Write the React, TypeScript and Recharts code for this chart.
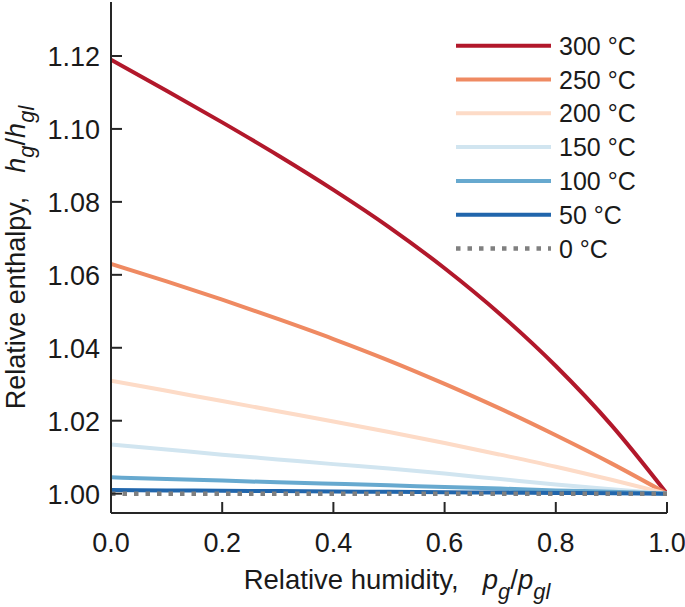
import React from 'react';
import { LineChart, Line, XAxis, YAxis, Legend, Label } from 'recharts';

const humidity = [0, 0.1, 0.2, 0.3, 0.4, 0.5, 0.6, 0.7, 0.8, 0.9, 1.0];
const t300 = [1.119, 1.1105, 1.1018, 1.0928, 1.0833, 1.0731, 1.0618, 1.0492, 1.035, 1.0188, 1.0];
const t250 = [1.063, 1.0582, 1.0532, 1.0479, 1.0424, 1.0365, 1.0301, 1.0233, 1.016, 1.0083, 1.0];
const t200 = [1.031, 1.0282, 1.0254, 1.0226, 1.0198, 1.0169, 1.0139, 1.0107, 1.0074, 1.0038, 1.0];
const t150 = [1.0135, 1.0121, 1.0107, 1.0094, 1.0081, 1.0069, 1.0055, 1.004, 1.0025, 1.0012, 1.0];
const t100 = [1.0045, 1.004, 1.0036, 1.0031, 1.0027, 1.0023, 1.0018, 1.0014, 1.0009, 1.0005, 1.0];
const t50 = [1.001, 1.0009, 1.0008, 1.0007, 1.0006, 1.0005, 1.0004, 1.0003, 1.0002, 1.0001, 1.0];
const t0 = [1.0, 1.0, 1.0, 1.0, 1.0, 1.0, 1.0, 1.0, 1.0, 1.0, 1.0];

const xTicks = [0, 0.2, 0.4, 0.6, 0.8, 1.0];
const yTicks = [1.0, 1.02, 1.04, 1.06, 1.08, 1.1, 1.12];

const seriesNames = ['300 °C', '250 °C', '200 °C', '150 °C', '100 °C', '50 °C', '0 °C'];
const seriesKeys = ['t300', 't250', 't200', 't150', 't100', 't50', 't0'];
const seriesValues = [t300, t250, t200, t150, t100, t50, t0];
const seriesColors = ['#b2182b', '#ef8a62', '#fddbc7', '#d1e5f0', '#67a9cf', '#2166ac', '#808080'];

const data = humidity.map((x, i) => {
  const row: Record<string, number> = { x };
  seriesKeys.forEach((k, j) => {
    row[k] = seriesValues[j][i];
  });
  return row;
});

const FONT = 'Liberation Sans, Arial, Helvetica, sans-serif';
const TXT = '#1a1a1a';
const AX = '#262626';
const TL = 11;

const BottomTick = (props: any) => {
  const { x, y, payload } = props;
  return (
    <g>
      <line x1={x} x2={x} y1={y} y2={y - TL} stroke={AX} strokeWidth={2} />
      <text x={x} y={y + 39} textAnchor="middle" fontSize={27} fontFamily={FONT} fill={TXT}>
        {Number(payload.value).toFixed(1)}
      </text>
    </g>
  );
};

const TopTick = (props: any) => {
  const { x, y } = props;
  return <line x1={x} x2={x} y1={y} y2={y + TL} stroke={AX} strokeWidth={2} />;
};

const LeftTick = (props: any) => {
  const { x, y, payload } = props;
  return (
    <g>
      <line x1={x} x2={x + TL} y1={y} y2={y} stroke={AX} strokeWidth={2} />
      <text x={x - 11} y={y + 10} textAnchor="end" fontSize={27} fontFamily={FONT} fill={TXT}>
        {Number(payload.value).toFixed(2)}
      </text>
    </g>
  );
};

const RightTick = (props: any) => {
  const { x, y } = props;
  return <line x1={x} x2={x - TL} y1={y} y2={y} stroke={AX} strokeWidth={2} />;
};

const XLabel = (props: any) => {
  const vb = props.viewBox || {};
  const cx = vb.x + vb.width / 2 + 8;
  return (
    <text x={cx} y={589} textAnchor="middle" fontSize={27.5} fontFamily={FONT} fill={TXT}>
      Relative humidity,
      <tspan fontStyle="italic" dx={24}>p</tspan>
      <tspan fontStyle="italic" fontSize={22} dy={10}>g</tspan>
      <tspan dy={-10}>/</tspan>
      <tspan fontStyle="italic">p</tspan>
      <tspan fontStyle="italic" fontSize={22} dy={10}>gl</tspan>
    </text>
  );
};

const YLabel = (props: any) => {
  const vb = props.viewBox || {};
  const cy = vb.y + vb.height / 2;
  const bx = 25;
  return (
    <text
      x={bx}
      y={cy}
      transform={`rotate(-90, ${bx}, ${cy})`}
      textAnchor="middle"
      fontSize={27}
      fontFamily={FONT}
      fill={TXT}
    >
      Relative enthalpy,
      <tspan fontStyle="italic" dx={24}>h</tspan>
      <tspan fontStyle="italic" fontSize={22} dy={9}>g</tspan>
      <tspan dy={-9}>/</tspan>
      <tspan fontStyle="italic">h</tspan>
      <tspan fontStyle="italic" fontSize={22} dy={9}>gl</tspan>
    </text>
  );
};

const renderLegend = () => {
  const left = 450;
  const top = 20;
  return (
    <svg width={235} height={250} style={{ display: 'block' }}>
      {seriesNames.map((name, i) => {
        const cy = 45.7 + i * 33.8 - top;
        const dashed = i === seriesNames.length - 1;
        return (
          <g key={name}>
            <line
              x1={456 - left}
              x2={551 - left}
              y1={cy}
              y2={cy}
              stroke={seriesColors[i]}
              strokeWidth={dashed ? 4.5 : 4}
              strokeDasharray={dashed ? '4.5 7' : undefined}
            />
            <text x={559 - left} y={cy + 9} fontSize={25} fontFamily={FONT} fill={TXT}>
              {name}
            </text>
          </g>
        );
      })}
    </svg>
  );
};

export default function App() {
  return (
    <div style={{ position: 'absolute', left: 0, top: 0, width: 685, height: 607, background: '#fff' }}>
      <LineChart
        width={685}
        height={607}
        data={data}
        margin={{ top: 2, right: 18, bottom: 0, left: 0 }}
      >
        <XAxis
          dataKey="x"
          type="number"
          domain={[0, 1]}
          ticks={xTicks}
          allowDataOverflow
          height={94}
          tickSize={0}
          tickMargin={0}
          tick={<BottomTick />}
          axisLine={{ stroke: AX, strokeWidth: 2 }}
          tickLine={false}
        >
          <Label content={<XLabel />} />
        </XAxis>
        <XAxis
          xAxisId="top"
          orientation="top"
          dataKey="x"
          type="number"
          domain={[0, 1]}
          ticks={xTicks}
          allowDataOverflow
          height={0}
          tickSize={0}
          tickMargin={0}
          tick={<TopTick />}
          axisLine={{ stroke: AX, strokeWidth: 2 }}
          tickLine={false}
        />
        <YAxis
          type="number"
          domain={[0.9947, 1.1348]}
          ticks={yTicks}
          allowDataOverflow
          width={111}
          tickSize={0}
          tickMargin={0}
          tick={<LeftTick />}
          axisLine={{ stroke: AX, strokeWidth: 2 }}
          tickLine={false}
        >
          <Label content={<YLabel />} />
        </YAxis>
        <YAxis
          yAxisId="right"
          orientation="right"
          type="number"
          domain={[0.9947, 1.1348]}
          ticks={yTicks}
          allowDataOverflow
          width={0}
          tickSize={0}
          tickMargin={0}
          tick={<RightTick />}
          axisLine={{ stroke: AX, strokeWidth: 2 }}
          tickLine={false}
        />
        {seriesKeys.map((k, i) => (
          <Line
            key={k}
            dataKey={k}
            name={seriesNames[i]}
            type="monotone"
            stroke={seriesColors[i]}
            strokeWidth={i === 6 ? 4.5 : 4}
            strokeDasharray={i === 6 ? '4.5 7' : undefined}
            dot={false}
            activeDot={false}
            isAnimationActive={false}
          />
        ))}
        <Legend
          layout="vertical"
          align="center"
          verticalAlign="middle"
          content={renderLegend}
          wrapperStyle={{ position: 'absolute', left: 450, top: 20, width: 235, height: 250 }}
        />
      </LineChart>
    </div>
  );
}
